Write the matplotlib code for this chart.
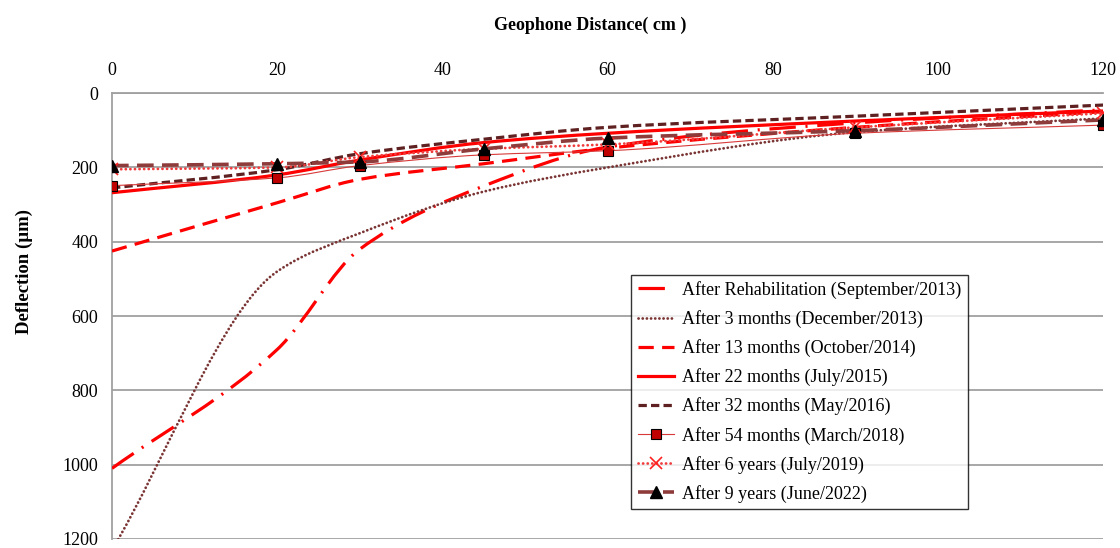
import numpy as np
import matplotlib
matplotlib.use("Agg")
import matplotlib.pyplot as plt
from matplotlib.path import Path
from matplotlib.patches import PathPatch
from matplotlib.lines import Line2D

plt.rcParams["font.family"] = ["Liberation Serif", "DejaVu Serif"]
plt.rcParams["lines.scale_dashes"] = False

# Geophone positions (cm) and deflections (micrometres)
distance = [0, 20, 30, 45, 60, 90, 120]
rehab_sep2013 = [1010, 690, 420, 250, 145, 80, 45]
dec2013 = [1230, 480, 377, 265, 200, 105, 68]
oct2014 = [425, 295, 232, 190, 148, 92, 50]
jul2015 = [268, 220, 180, 133, 108, 75, 48]
may2016 = [255, 206, 163, 124, 92, 62, 32]
mar2018 = [249, 228, 195, 166, 155, 108, 86]
jul2019 = [205, 200, 172, 150, 138, 92, 54]
jun2022 = [195, 190, 185, 150, 121, 101, 72]

labels = [
    "After Rehabilitation (September/2013)",
    "After 3 months (December/2013)",
    "After 13 months (October/2014)",
    "After 22 months (July/2015)",
    "After 32 months (May/2016)",
    "After 54 months (March/2018)",
    "After 6 years (July/2019)",
    "After 9 years (June/2022)",
]
x_ticks = [0, 20, 40, 60, 80, 100, 120]
y_ticks = [0, 200, 400, 600, 800, 1000, 1200]

series = [rehab_sep2013, dec2013, oct2014, jul2015, may2016, mar2018, jul2019, jun2022]

styles = [
    dict(color="#FF0000", lw=2.3, ls=(0, (19, 7, 1.5, 7)), cap="butt"),
    dict(color="#7A3434", lw=2.0, ls=(0, (0.1, 2.9)), cap="round"),
    dict(color="#FF0000", lw=2.3, ls=(0, (11, 6)), cap="butt"),
    dict(color="#FF0000", lw=2.3, ls="-", cap="butt"),
    dict(color="#5E2020", lw=2.3, ls=(0, (6, 3)), cap="butt"),
    dict(color="#D83A3A", lw=0.8, ls="-", cap="butt",
         marker="s", ms=7, mfc="#C00000", mec="black", mew=0.8),
    dict(color="#F03C3C", lw=2.0, ls=(0, (0.1, 3.2)), cap="round",
         marker="x", ms=8, mec="#FF2020", mew=1.2),
    dict(color="#8E3B3B", lw=2.6, ls=(0, (12, 6)), cap="butt",
         marker="^", ms=8, mfc="black", mec="black"),
]


def smooth_path(xs, ys):
    """Monotone cubic Bezier path through the points (no overshoot)."""
    x = np.asarray(xs, float)
    y = np.asarray(ys, float)
    n = len(x)
    h = np.diff(x)
    d = np.diff(y) / h
    m = np.zeros(n)
    m[0], m[-1] = d[0], d[-1]
    for i in range(1, n - 1):
        if d[i - 1] * d[i] > 0:
            w1 = 2 * h[i] + h[i - 1]
            w2 = h[i] + 2 * h[i - 1]
            m[i] = (w1 + w2) / (w1 / d[i - 1] + w2 / d[i])
    verts = [(x[0], y[0])]
    codes = [Path.MOVETO]
    for i in range(n - 1):
        c1 = (x[i] + h[i] / 3, y[i] + m[i] * h[i] / 3)
        c2 = (x[i + 1] - h[i] / 3, y[i + 1] - m[i + 1] * h[i] / 3)
        verts += [c1, c2, (x[i + 1], y[i + 1])]
        codes += [Path.CURVE4] * 3
    return Path(verts, codes)


fig = plt.figure(figsize=(11.2, 5.48), dpi=100)
ax = fig.add_axes([0.1, 0.0165, 0.885, 0.8135])

handles = []
for vals, st, lab in zip(series, styles, labels):
    patch = PathPatch(smooth_path(distance, vals), fill=False, edgecolor=st["color"],
                      linewidth=st["lw"], linestyle=st["ls"], capstyle=st["cap"], zorder=3)
    ax.add_patch(patch)
    if "marker" in st:
        ax.plot(distance, vals, ls="none", marker=st["marker"], ms=st["ms"],
                mfc=st.get("mfc", st.get("mec")), mec=st["mec"], mew=st.get("mew", 1.0), zorder=4)
    handles.append(Line2D([], [], color=st["color"], lw=st["lw"], ls=st["ls"],
                          dash_capstyle=st["cap"],
                          marker=st.get("marker", None), ms=st.get("ms", 0),
                          mfc=st.get("mfc", st.get("mec")), mec=st.get("mec"),
                          mew=st.get("mew", 1.0)))

ax.set_xlim(0, 120)
ax.set_ylim(1200, 0)
ax.set_xticks(x_ticks)
ax.set_yticks(y_ticks)
ax.xaxis.tick_top()
ax.tick_params(axis="both", length=0, labelsize=13)
ax.tick_params(axis="x", pad=10)
ax.tick_params(axis="y", pad=10)
ax.grid(axis="y", color="#A0A0A0", lw=1.3, zorder=0)
ax.set_axisbelow(True)
for side in ("right", "bottom"):
    ax.spines[side].set_visible(False)
for side in ("left", "top"):
    ax.spines[side].set_color("#A0A0A0")
    ax.spines[side].set_linewidth(1.3)

fig.text(0.527, 0.953, "Geophone Distance( cm )", ha="center", va="center",
         fontsize=13, fontweight="bold")
ax.set_ylabel("Deflection (\u00b5m)", fontsize=13.5, fontweight="bold")
ax.yaxis.set_label_coords(-0.08, 0.6)

leg = ax.legend(handles, labels, loc="upper left", bbox_to_anchor=(0.524, 0.593),
                fontsize=13, frameon=True, fancybox=False, edgecolor="black",
                handlelength=2.0, handletextpad=0.45, labelspacing=0.62,
                borderpad=0.35, borderaxespad=0)
leg.get_frame().set_linewidth(1.0)

fig.savefig("out.png", dpi=100)
